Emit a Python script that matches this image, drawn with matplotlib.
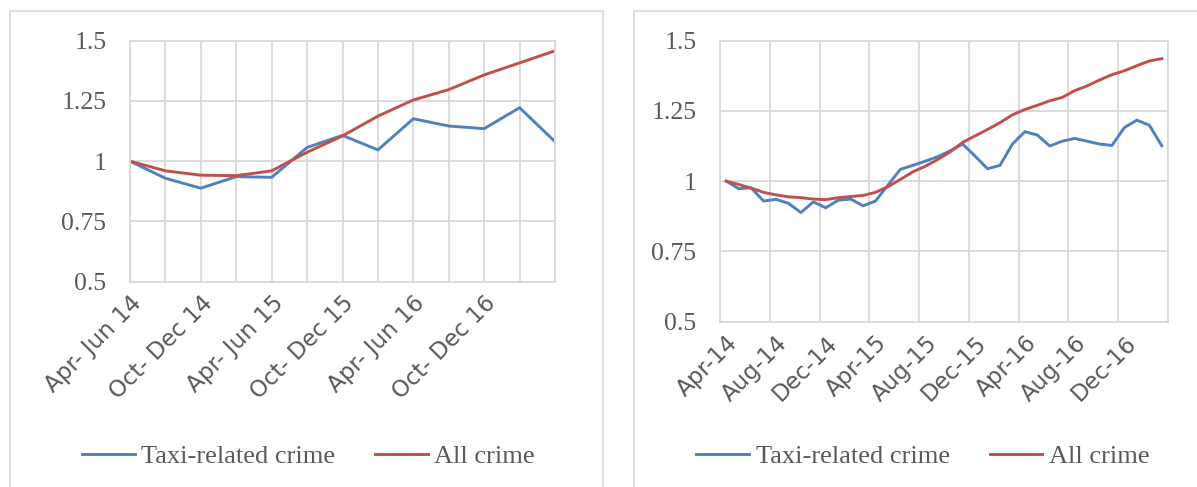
import matplotlib.pyplot as plt
import numpy as np
from matplotlib.patches import Rectangle

# Quarterly index (Apr-Jun 14 = 1)
quarter_labels = ['Apr- Jun 14', 'Jul- Sep 14', 'Oct- Dec 14', 'Jan- Mar 15',
                  'Apr- Jun 15', 'Jul- Sep 15', 'Oct- Dec 15', 'Jan- Mar 16',
                  'Apr- Jun 16', 'Jul- Sep 16', 'Oct- Dec 16', 'Jan- Mar 17',
                  'Apr- Jun 17']
quarter_taxi = [1.0, 0.929, 0.888, 0.936, 0.933, 1.057, 1.107, 1.047, 1.176,
                1.146, 1.135, 1.222, 1.081]
quarter_all = [1.0, 0.960, 0.942, 0.940, 0.960, 1.037, 1.105, 1.187, 1.254,
               1.297, 1.358, 1.408, 1.458]

# Monthly index (Apr-14 = 1)
month_labels = ['Apr-14', 'May-14', 'Jun-14', 'Jul-14', 'Aug-14', 'Sep-14',
                'Oct-14', 'Nov-14', 'Dec-14', 'Jan-15', 'Feb-15', 'Mar-15',
                'Apr-15', 'May-15', 'Jun-15', 'Jul-15', 'Aug-15', 'Sep-15',
                'Oct-15', 'Nov-15', 'Dec-15', 'Jan-16', 'Feb-16', 'Mar-16',
                'Apr-16', 'May-16', 'Jun-16', 'Jul-16', 'Aug-16', 'Sep-16',
                'Oct-16', 'Nov-16', 'Dec-16', 'Jan-17', 'Feb-17', 'Mar-17']
month_taxi = [1.0, 0.973, 0.976, 0.929, 0.935, 0.921, 0.888, 0.926, 0.905,
              0.932, 0.936, 0.912, 0.929, 0.986, 1.042, 1.056, 1.071, 1.087,
              1.108, 1.132, 1.089, 1.044, 1.056, 1.132, 1.176, 1.164, 1.125,
              1.142, 1.152, 1.142, 1.132, 1.127, 1.191, 1.217, 1.199, 1.126]
month_all = [1.0, 0.988, 0.975, 0.960, 0.951, 0.944, 0.941, 0.936, 0.934,
             0.941, 0.945, 0.949, 0.960, 0.980, 1.006, 1.033, 1.053, 1.077,
             1.104, 1.138, 1.161, 1.184, 1.208, 1.236, 1.255, 1.270, 1.286,
             1.298, 1.322, 1.339, 1.360, 1.379, 1.393, 1.411, 1.428, 1.436]

BLUE = '#4f81bd'
RED = '#c0504d'
GRID = '#d9d9d9'
TEXT = '#595959'
W, H = 1197, 487


def style_axes(ax):
  ax.set_ylim(0.5, 1.5)
  ax.set_yticks([0.5, 0.75, 1.0, 1.25, 1.5])
  ax.set_yticklabels(['0.5', '0.75', '1', '1.25', '1.5'],
                     family='Liberation Serif', fontsize=18.5, color=TEXT)
  ax.tick_params(axis='both', length=0)
  ax.tick_params(axis='y', pad=17)
  ax.tick_params(axis='x', pad=7)
  ax.grid(axis='y', color=GRID, lw=1.3)
  for s in ax.spines.values():
    s.set_color(GRID)
    s.set_linewidth(1.3)
  ax.set_axisbelow(True)


def panel(x0, x1):
  fig.add_artist(Rectangle((x0 / W, -0.1), (x1 - x0) / W, 1.1 - 11 / H,
                           transform=fig.transFigure, fill=False,
                           ec=GRID, lw=1.2))


def add_legend(ax, cx):
  fig.legend(handles=ax.get_lines(), loc='center',
             bbox_to_anchor=(cx / W, 1 - 456 / H), ncol=2, frameon=False,
             prop={'family': 'Liberation Serif', 'size': 19},
             labelcolor=TEXT, handlelength=2.0, handletextpad=0.25,
             columnspacing=1.5)


fig = plt.figure(figsize=(W / 100, H / 100), dpi=100)
panel(9.6, 603)
panel(634, 1210)

# Quarterly chart
ax1 = fig.add_axes([130 / W, 1 - 281.7 / H, 425 / W, 241 / H])
x1 = np.arange(len(quarter_labels))
ax1.plot(x1, quarter_taxi, color=BLUE, lw=2.1, label='Taxi-related crime')
ax1.plot(x1, quarter_all, color=RED, lw=2.1, label='All crime')
ax1.set_xlim(0, len(quarter_labels) - 1)
style_axes(ax1)
ax1.set_xticks(x1)
ax1.set_xticklabels([l if i % 2 == 0 and i < 12 else ''
                     for i, l in enumerate(quarter_labels)],
                    rotation=45, ha='right', va='top', rotation_mode='anchor',
                    family='DejaVu Sans', fontsize=16.5, color=TEXT)
ax1.grid(axis='x', color=GRID, lw=1.3)
add_legend(ax1, 308.5)

# Monthly chart
ax2 = fig.add_axes([720 / W, 1 - 321.5 / H, 448 / W, 280.8 / H])
x2 = np.arange(len(month_labels))
ax2.plot(x2, month_taxi, color=BLUE, lw=2.1, label='Taxi-related crime')
ax2.plot(x2, month_all, color=RED, lw=2.1, label='All crime')
ax2.set_xlim(-0.5, len(month_labels) - 0.5)
style_axes(ax2)
ax2.set_xticks(x2[::4])
ax2.set_xticklabels(month_labels[::4], rotation=45, ha='right', va='top',
                    rotation_mode='anchor', family='DejaVu Sans',
                    fontsize=16.5, color=TEXT)
ax2.set_xticks(np.arange(-0.5, len(month_labels), 4), minor=True)
ax2.tick_params(axis='x', which='minor', length=0)
ax2.grid(axis='x', which='minor', color=GRID, lw=1.3)
add_legend(ax2, 923)

fig.savefig('out.png', dpi=100)
